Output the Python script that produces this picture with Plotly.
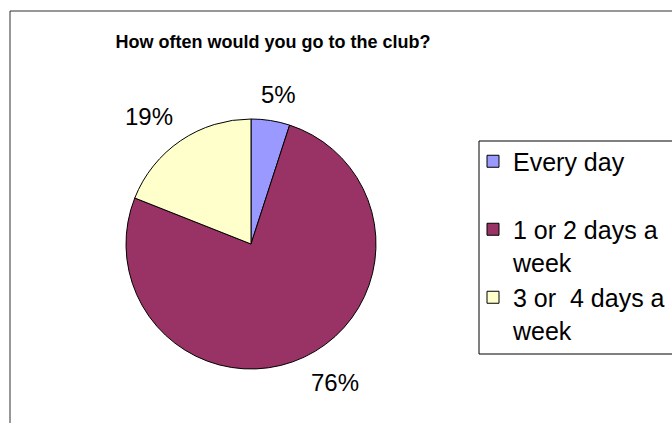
import math
import plotly.graph_objects as go

categories = ["Every day", "1 or 2 days a week", "3 or  4 days a week"]
legend_labels = ["Every day<br>\u00a0", "1 or 2 days a<br>week", "3 or  4 days a<br>week"]
values = [5, 76, 19]
colors = ["#9999FF", "#993366", "#FFFFCC"]
title_text = "How often would you go to the club?"

W, H = 672, 423
FONT = "Liberation Sans, Arial, sans-serif"

# pie geometry (pixels)
CX, CY, R = 251, 244, 125
LABEL_R = R + 11

fig = go.Figure(go.Pie(
    labels=legend_labels,
    values=values,
    marker=dict(colors=colors, line=dict(color="black", width=1)),
    sort=False,
    direction="clockwise",
    rotation=0,
    textinfo="none",
    hoverinfo="skip",
    domain=dict(x=[(CX - R) / W, (CX + R) / W], y=[(H - CY - R) / H, (H - CY + R) / H]),
))

# percentage labels placed outside each slice along its mid-angle
total = sum(values)
annotations = []
cum = 0
for v in values:
    mid = (cum + v / 2) / total * 2 * math.pi
    cum += v
    dx, dy = math.sin(mid), -math.cos(mid)
    px, py = CX + LABEL_R * dx, CY + LABEL_R * dy
    xa = "left" if dx > 0.3 else ("right" if dx < -0.3 else "center")
    ya = "top" if dy > 0.3 else ("bottom" if dy < -0.3 else "middle")
    annotations.append(dict(
        text=f"{round(v / total * 100)}%", x=px / W, y=1 - py / H,
        xref="paper", yref="paper", xanchor=xa, yanchor=ya, showarrow=False,
        xshift=6 if xa == "center" else 0,
        font=dict(family=FONT, size=24, color="black"),
    ))

fig.update_layout(
    width=W, height=H,
    margin=dict(l=0, r=0, t=0, b=0, autoexpand=False),
    paper_bgcolor="white",
    plot_bgcolor="white",
    title=dict(text="<b>" + title_text + "</b>", x=273 / W, xanchor="center",
               y=1 - 42 / H, yanchor="middle",
               font=dict(family=FONT, size=18, color="black")),
    legend=dict(x=473 / W, xanchor="left", y=1 - 138.5 / H, yanchor="top",
                font=dict(family=FONT, size=25, color="black"),
                bgcolor="rgba(0,0,0,0)", borderwidth=0, valign="top",
                traceorder="normal"),
    showlegend=True,
    annotations=annotations,
    shapes=[
        dict(type="rect", xref="paper", yref="paper", x0=10 / W, x1=1.2,
             y0=-0.2, y1=1 - 11 / H, line=dict(color="#303030", width=1)),
        dict(type="rect", xref="paper", yref="paper", x0=479 / W, x1=1.2,
             y0=1 - 354 / H, y1=1 - 141 / H, line=dict(color="black", width=1)),
    ],
)

fig.write_html("out.html", config={"displayModeBar": False},
               post_script="document.body.style.margin='0px';")
